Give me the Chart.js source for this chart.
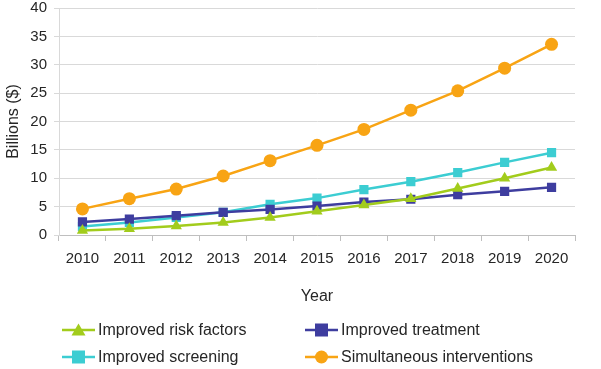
<!DOCTYPE html>
<html>
<head>
<meta charset="utf-8">
<script src="https://cdn.jsdelivr.net/npm/chart.js@4"></script>
<style>
  body { margin: 0; background: #fff; }
  #wrap { position: relative; width: 601px; height: 369px; }
  #legend { position: absolute; left: 0; top: 0; width: 601px; height: 369px; pointer-events: none;
            font-family: 'Liberation Sans', Arial, sans-serif; font-size: 16px; color: #262626; }
  .item { position: absolute; display: flex; align-items: center; height: 20px; }
  .item svg { margin-right: 3px; }
</style>
</head>
<body>
<div id="wrap">
  <canvas id="line-chart" width="601" height="369"></canvas>
  <div id="legend"></div>
</div>
<script>
const years = ["2010", "2011", "2012", "2013", "2014", "2015", "2016", "2017", "2018", "2019", "2020"];
const riskFactors = [0.8, 1.1, 1.6, 2.2, 3.1, 4.2, 5.3, 6.4, 8.2, 10.0, 11.9];
const treatment = [2.3, 2.8, 3.4, 4.0, 4.5, 5.1, 5.8, 6.3, 7.1, 7.7, 8.4];
const screening = [1.5, 2.2, 3.1, 4.0, 5.4, 6.5, 8.0, 9.4, 11.0, 12.8, 14.5];
const simultaneous = [4.6, 6.4, 8.1, 10.4, 13.1, 15.8, 18.6, 22.0, 25.4, 29.4, 33.6];

Chart.defaults.font.family = "'Liberation Sans', Arial, sans-serif";
Chart.defaults.color = "#262626";

const series = [
    { label: "Improved risk factors", data: riskFactors, color: "#a2cc1c", style: "triangle", radius: 6.5 },
    { label: "Improved treatment", data: treatment, color: "#3e3d9f", style: "rect", radius: 6.5 },
    { label: "Improved screening", data: screening, color: "#3ccdd2", style: "rect", radius: 6.5 },
    { label: "Simultaneous interventions", data: simultaneous, color: "#f8a414", style: "circle", radius: 6.5 },
];

const ctx = document.querySelector("#line-chart").getContext("2d");

new Chart(ctx, {
    type: "line",
    data: {
        labels: years,
        datasets: series.map((s) => ({
            label: s.label,
            data: s.data,
            borderColor: s.color,
            backgroundColor: s.color,
            borderWidth: 2.5,
            pointStyle: s.style,
            pointRadius: s.radius,
            pointBorderWidth: 0,
            tension: 0,
        })),
    },
    options: {
        responsive: false,
        animation: false,
        layout: { padding: { top: 8, right: 26, bottom: 59, left: 0 } },
        scales: {
            x: {
                offset: true,
                grid: { offset: true, drawOnChartArea: false, color: "#bfbfbf", tickLength: 6 },
                border: { color: "#bfbfbf" },
                ticks: { font: { size: 15 }, padding: 9, maxRotation: 0 },
                title: { display: true, text: "Year", font: { size: 16 }, padding: { top: 4, bottom: 4 } },
                afterFit: (scale) => { scale.height = 75; },
            },
            y: {
                min: 0,
                max: 40,
                ticks: { stepSize: 5, font: { size: 15 }, padding: 7 },
                grid: { color: "#d9d9d9", tickLength: 5 },
                border: { color: "#d9d9d9" },
                title: { display: true, text: "Billions ($)", font: { size: 16 }, padding: { top: 4, bottom: 4 } },
                afterFit: (scale) => {
                    scale.width = 59;
                    scale.paddingTop = 0;
                    scale.paddingBottom = 0;
                },
            },
        },
        plugins: {
            legend: { display: false },
            tooltip: { enabled: false },
        },
    },
});

// legend laid out in two columns, like the original figure
const legendPos = [[62, 320], [305, 320], [62, 347], [305, 347]];
const markerSvg = (s) => {
    let m = "";
    if (s.style === "triangle") m = `<polygon points="16.5,3.5 23.5,15.5 9.5,15.5" fill="${s.color}"/>`;
    else if (s.style === "rect") m = `<rect x="10" y="3.5" width="13" height="13" fill="${s.color}"/>`;
    else m = `<circle cx="16.5" cy="10" r="6.5" fill="${s.color}"/>`;
    return `<svg width="33" height="20"><line x1="0" y1="10" x2="33" y2="10" stroke="${s.color}" stroke-width="2.5"/>${m}</svg>`;
};
const legend = document.querySelector("#legend");
series.forEach((s, i) => {
    const el = document.createElement("div");
    el.className = "item";
    el.style.left = legendPos[i][0] + "px";
    el.style.top = legendPos[i][1] + "px";
    el.innerHTML = markerSvg(s) + "<span>" + s.label + "</span>";
    legend.appendChild(el);
});
</script>
</body>
</html>
